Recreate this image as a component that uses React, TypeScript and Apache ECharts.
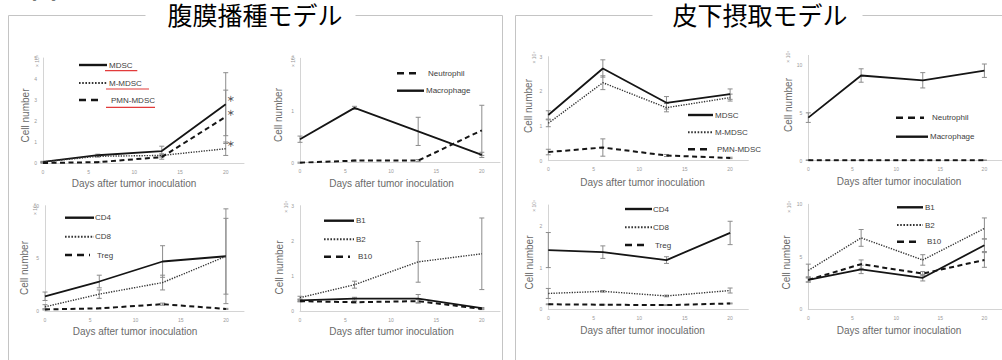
import React, { useEffect, useRef } from "react";
import * as echarts from "echarts";

// ---------- data ----------
const days = [0, 6, 13, 20];

// 腹膜播種モデル
const pMdsc = [0.05, 0.37, 0.57, 2.8];
const pMdscErr = [0.03, 0.05, 0.23, 1.5];
const pMMdsc = [0.05, 0.32, 0.36, 0.68];
const pMMdscErr = [0.02, 0.04, 0.08, 0.32];
const pPmn = [0.0, 0.04, 0.28, 2.2];
const pPmnErr = [0.01, 0.02, 0.1, 1.27];
const pStars = [3.05, 2.4, 0.95];

const pMacro = [0.45, 1.05, 0.6, 0.15];
const pMacroErr = [0.06, 0.03, 0.27, 0.05];
const pNeut = [0.0, 0.04, 0.04, 0.62];
const pNeutErr = [0.01, 0.01, 0.02, 0.48];

const pCd4 = [1.4, 2.8, 4.7, 5.2];
const pCd4Err = [0.4, 0.6, 1.5, 4.5];
const pCd8 = [0.4, 1.6, 2.7, 5.2];
const pCd8Err = [0.2, 0.4, 0.7, 3.6];
const pTreg = [0.15, 0.25, 0.65, 0.2];
const pTregErr = [0.05, 0.05, 0.1, 0.05];

const pB1 = [0.3, 0.35, 0.35, 0.08];
const pB1Err = [0.03, 0.04, 0.12, 0.02];
const pB2 = [0.38, 0.75, 1.4, 1.63];
const pB2Err = [0.04, 0.1, 0.58, 1.02];
const pB10 = [0.28, 0.25, 0.28, 0.06];
const pB10Err = [0.02, 0.02, 0.05, 0.02];

// 皮下摂取モデル
const sMdsc = [1.32, 2.66, 1.67, 1.92];
const sMdscErr = [0.12, 0.25, 0.18, 0.15];
const sMMdsc = [1.08, 2.25, 1.53, 1.82];
const sMMdscErr = [0.1, 0.2, 0.12, 0.1];
const sPmn = [0.25, 0.38, 0.15, 0.08];
const sPmnErr = [0.08, 0.25, 0.03, 0.02];

const sMacro = [4.5, 8.9, 8.4, 9.4];
const sMacroErr = [0.5, 0.7, 0.8, 0.7];
const sNeut = [0.05, 0.05, 0.05, 0.05];
const sNeutErr = [0.02, 0.02, 0.02, 0.02];

const sCd4 = [1.42, 1.37, 1.18, 1.83];
const sCd4Err = [0.42, 0.15, 0.08, 0.28];
const sCd8 = [0.38, 0.43, 0.32, 0.45];
const sCd8Err = [0.12, 0.02, 0.02, 0.06];
const sTreg = [0.12, 0.11, 0.1, 0.14];
const sTregErr = [0.01, 0.01, 0.01, 0.01];

const sB1 = [2.8, 3.8, 3.0, 6.1];
const sB1Err = [0.2, 0.4, 0.3, 0.6];
const sB2 = [3.7, 6.8, 4.7, 7.7];
const sB2Err = [0.6, 0.8, 0.5, 1.0];
const sB10 = [2.8, 4.3, 3.4, 4.7];
const sB10Err = [0.2, 0.4, 0.2, 0.7];

const titles = ["腹膜播種モデル", "皮下摂取モデル"];
const figLabel = "図5";
const xTitle = "Days after tumor inoculation";
const yTitle = "Cell number";
const unitLabel = "× 10⁵";

// ---------- layout ----------
type S = { name: string; v: number[]; e: number[]; style: "solid" | "dotted" | "dashed" };
type P = {
  grid: { left: number; top: number; width: number; height: number };
  yMax: number;
  yInt: number;
  series: S[];
  leg: { x: number; w: number; tx: number; ys: number[] };
  xt: [number, number];
  yt: [number, number];
  ut: [number, number];
};

const panels: P[] = [
  {
    grid: { left: 43, top: 58, width: 201, height: 105 }, yMax: 5, yInt: 1,
    series: [
      { name: "MDSC", v: pMdsc, e: pMdscErr, style: "solid" },
      { name: "M-MDSC", v: pMMdsc, e: pMMdscErr, style: "dotted" },
      { name: "PMN-MDSC", v: pPmn, e: pPmnErr, style: "dashed" },
    ],
    leg: { x: 79, w: 28, tx: 109, ys: [65, 83, 100] }, xt: [134, 183], yt: [25, 115.5], ut: [36.7, 61],
  },
  {
    grid: { left: 300, top: 58.3, width: 200, height: 104.4 }, yMax: 2, yInt: 1,
    series: [
      { name: "Neutrophil", v: pNeut, e: pNeutErr, style: "dashed" },
      { name: "Macrophage", v: pMacro, e: pMacroErr, style: "solid" },
    ],
    leg: { x: 397, w: 27, tx: 426, ys: [73.3, 90.7] }, xt: [391.5, 183.3], yt: [278.3, 115], ut: [293.3, 61],
  },
  {
    grid: { left: 45, top: 205.7, width: 199, height: 105.3 }, yMax: 10, yInt: 5,
    series: [
      { name: "CD4", v: pCd4, e: pCd4Err, style: "solid" },
      { name: "CD8", v: pCd8, e: pCd8Err, style: "dotted" },
      { name: "Treg", v: pTreg, e: pTregErr, style: "dashed" },
    ],
    leg: { x: 65, w: 29, tx: 95, ys: [217.7, 236.7, 255] }, xt: [135, 331], yt: [24, 268], ut: [35, 209],
  },
  {
    grid: { left: 300, top: 205.7, width: 200, height: 105.3 }, yMax: 3, yInt: 1,
    series: [
      { name: "B1", v: pB1, e: pB1Err, style: "solid" },
      { name: "B2", v: pB2, e: pB2Err, style: "dotted" },
      { name: "B10", v: pB10, e: pB10Err, style: "dashed" },
    ],
    leg: { x: 324, w: 30, tx: 356, ys: [220.7, 239.3, 256.7] }, xt: [391.5, 331.7], yt: [279.3, 267.5], ut: [285.7, 206.7],
  },
  {
    grid: { left: 548.3, top: 56.7, width: 200, height: 104 }, yMax: 3, yInt: 1,
    series: [
      { name: "MDSC", v: sMdsc, e: sMdscErr, style: "solid" },
      { name: "M-MDSC", v: sMMdsc, e: sMMdscErr, style: "dotted" },
      { name: "PMN-MDSC", v: sPmn, e: sPmnErr, style: "dashed" },
    ],
    leg: { x: 688, w: 25, tx: 715, ys: [115, 132.3, 149.3] }, xt: [642.5, 182.7], yt: [528.3, 106], ut: [534.3, 57.5],
  },
  {
    grid: { left: 808.3, top: 55.4, width: 196.5, height: 105.3 }, yMax: 11, yInt: 5,
    series: [
      { name: "Neutrophil", v: sNeut, e: sNeutErr, style: "dashed" },
      { name: "Macrophage", v: sMacro, e: sMacroErr, style: "solid" },
    ],
    leg: { x: 896, w: 32, tx: 930, ys: [117.7, 136.7] }, xt: [899, 181.7], yt: [788.3, 105], ut: [788.3, 56.7],
  },
  {
    grid: { left: 548.3, top: 205, width: 200, height: 104.3 }, yMax: 2.5, yInt: 1,
    series: [
      { name: "CD4", v: sCd4, e: sCd4Err, style: "solid" },
      { name: "CD8", v: sCd8, e: sCd8Err, style: "dotted" },
      { name: "Treg", v: sTreg, e: sTregErr, style: "dashed" },
    ],
    leg: { x: 625, w: 27, tx: 653, ys: [209, 227.3, 245] }, xt: [642.5, 330.7], yt: [529, 262.5], ut: [534, 205.8],
  },
  {
    grid: { left: 808.3, top: 204.3, width: 196, height: 105 }, yMax: 10, yInt: 5,
    series: [
      { name: "B1", v: sB1, e: sB1Err, style: "solid" },
      { name: "B2", v: sB2, e: sB2Err, style: "dotted" },
      { name: "B10", v: sB10, e: sB10Err, style: "dashed" },
    ],
    leg: { x: 897, w: 26, tx: 925, ys: [207.3, 225, 241.7] }, xt: [899, 330.7], yt: [786.7, 262.5], ut: [789, 206.7],
  },
];

const FONT = "Liberation Sans, Arial, sans-serif";
const AXIS = "#d4d4d4";
const TICK = "#9a9a9a";
const LINE = "#151515";

function seriesLineStyle(style: string) {
  if (style === "dotted") return { color: "#333", width: 1.4, type: [1.3, 1.3] as any };
  if (style === "dashed") return { color: LINE, width: 2, type: [5, 3.5] as any };
  return { color: LINE, width: 1.8, type: "solid" as any };
}
function legendLineStyle(style: string) {
  if (style === "dotted") return { stroke: "#333", lineWidth: 2, lineDash: [1.6, 1.6] };
  if (style === "dashed") return { stroke: LINE, lineWidth: 2.6, lineDash: [7, 5] };
  return { stroke: LINE, lineWidth: 2.4 };
}

function buildOption() {
  const grids: any[] = [];
  const xAxes: any[] = [];
  const yAxes: any[] = [];
  const series: any[] = [];
  const graphic: any[] = [];

  panels.forEach((p, i) => {
    grids.push({ ...p.grid, containLabel: false });
    xAxes.push({
      type: "value", gridIndex: i, min: 0, max: 22, interval: 5,
      axisLine: { show: true, lineStyle: { color: AXIS, width: 1 } },
      axisTick: { show: false }, splitLine: { show: false },
      axisLabel: {
        fontSize: 5, color: TICK, margin: 6, fontFamily: FONT, showMaxLabel: false,
        formatter: (v: number) => (v % 5 === 0 ? String(v) : ""),
      },
    });
    yAxes.push({
      type: "value", gridIndex: i, min: 0, max: p.yMax, interval: p.yInt,
      axisLine: { show: true, lineStyle: { color: AXIS, width: 1 } },
      axisTick: { show: false }, splitLine: { show: false },
      axisLabel: {
        fontSize: 5, color: TICK, margin: 6, fontFamily: FONT,
        formatter: (v: number) => (Math.abs(v / p.yInt - Math.round(v / p.yInt)) < 1e-6 ? String(v) : ""),
      },
    });

    p.series.forEach((s) => {
      series.push({
        type: "custom", name: s.name + " SD", xAxisIndex: i, yAxisIndex: i, silent: true, z: 3,
        data: days.map((d, j) => [d, s.v[j] - s.e[j], s.v[j] + s.e[j]]),
        encode: { x: 0, y: [1, 2] },
        renderItem: (params: any, api: any) => {
          const x = api.value(0);
          const a = api.coord([x, api.value(2)]);
          const b = api.coord([x, api.value(1)]);
          const st = { stroke: "#8c8c8c", lineWidth: 1 };
          return {
            type: "group",
            children: [
              { type: "line", shape: { x1: a[0], y1: a[1], x2: b[0], y2: b[1] }, style: st },
              { type: "line", shape: { x1: a[0] - 2.5, y1: a[1], x2: a[0] + 2.5, y2: a[1] }, style: st },
              { type: "line", shape: { x1: b[0] - 2.5, y1: b[1], x2: b[0] + 2.5, y2: b[1] }, style: st },
            ],
          };
        },
      });
      series.push({
        type: "line", name: s.name, xAxisIndex: i, yAxisIndex: i, z: 4,
        data: days.map((d, j) => [d, s.v[j]]),
        showSymbol: false, symbol: "none",
        lineStyle: seriesLineStyle(s.style),
      });
    });

    // legend samples
    p.series.forEach((s, k) => {
      const y = p.leg.ys[k];
      const w = s.style === "dashed" ? p.leg.w - 4 : p.leg.w;
      graphic.push({ type: "line", shape: { x1: p.leg.x, y1: y, x2: p.leg.x + w, y2: y }, style: legendLineStyle(s.style), silent: true });
      graphic.push({
        type: "text", x: p.leg.tx + (s.style === "dashed" ? 2 : 0), y,
        style: { text: s.name, fill: "#404040", font: `8px ${FONT}`, verticalAlign: "middle", align: "left" },
        silent: true,
      });
    });

    // axis titles
    graphic.push({
      type: "text", x: p.xt[0], y: p.xt[1],
      style: { text: xTitle, fill: "#6a6a6a", font: `10px ${FONT}`, align: "center", verticalAlign: "middle" },
      silent: true,
    });
    graphic.push({
      type: "text", x: p.yt[0], y: p.yt[1], rotation: Math.PI / 2,
      style: { text: yTitle, fill: "#6a6a6a", font: `10px ${FONT}`, align: "center", verticalAlign: "middle" },
      silent: true,
    });
    graphic.push({
      type: "text", x: p.ut[0], y: p.ut[1], rotation: Math.PI / 2,
      style: { text: unitLabel, fill: TICK, font: `5px ${FONT}`, align: "center", verticalAlign: "middle" },
      silent: true,
    });
  });

  // significance marks on first panel
  series.push({
    type: "scatter", name: "sig", xAxisIndex: 0, yAxisIndex: 0, z: 5, silent: true,
    symbolSize: 0,
    data: pStars.map((v) => [20, v]),
    label: { show: true, position: "inside", offset: [5, 0], formatter: "＊", fontSize: 8, fontWeight: "bold", color: "#222", fontFamily: "Noto Sans CJK JP" },
  });

  // red underlines under legend labels of panel 1
  const ul = [
    [105, 137.3, 70.7],
    [106, 149, 89],
    [106, 155, 107.3],
  ];
  ul.forEach(([x1, x2, y]) =>
    graphic.push({ type: "line", shape: { x1, y1: y, x2, y2: y }, style: { stroke: "#e23b3b", lineWidth: 1.2 }, silent: true })
  );

  // frames
  const frameSt = { stroke: "#c4c4c4", lineWidth: 1 };
  const fl = [
    [8, 15, 145, 15], [355, 15, 502, 15], [8, 15, 8, 380], [502, 15, 502, 380],
    [515, 15, 652, 15], [862, 15, 1010, 15], [515, 15, 515, 380],
  ];
  fl.forEach(([x1, y1, x2, y2]) =>
    graphic.push({ type: "line", shape: { x1: x1 + 0.5, y1: y1 + 0.5, x2: x2 + 0.5, y2: y2 + 0.5 }, style: frameSt, silent: true })
  );
  graphic.push({
    type: "text", x: 255, y: 13.5,
    style: { text: titles[0], fill: "#000", font: `25px "Noto Sans CJK JP"`, lineHeight: 25, align: "center", verticalAlign: "middle" }, silent: true,
  });
  graphic.push({
    type: "text", x: 760, y: 13.5,
    style: { text: titles[1], fill: "#000", font: `25px "Noto Sans CJK JP"`, lineHeight: 25, align: "center", verticalAlign: "middle" }, silent: true,
  });
  graphic.push({
    type: "text", x: 31, y: -1,
    style: { text: figLabel, fill: "#000", font: `bold 26px "Noto Sans CJK JP"`, align: "left", verticalAlign: "bottom" }, silent: true,
  });

  return {
    animation: false,
    backgroundColor: "#fff",
    grid: grids,
    xAxis: xAxes,
    yAxis: yAxes,
    series,
    graphic,
  };
}

export default function App() {
  const ref = useRef<HTMLDivElement>(null);
  useEffect(() => {
    if (!ref.current) return;
    const chart = echarts.init(ref.current, undefined, { renderer: "svg" });
    chart.setOption(buildOption() as any);
    return () => chart.dispose();
  }, []);
  return (
    <div
      ref={ref}
      style={{ position: "fixed", left: 0, top: 0, width: 1002, height: 360, background: "#fff" }}
    />
  );
}
